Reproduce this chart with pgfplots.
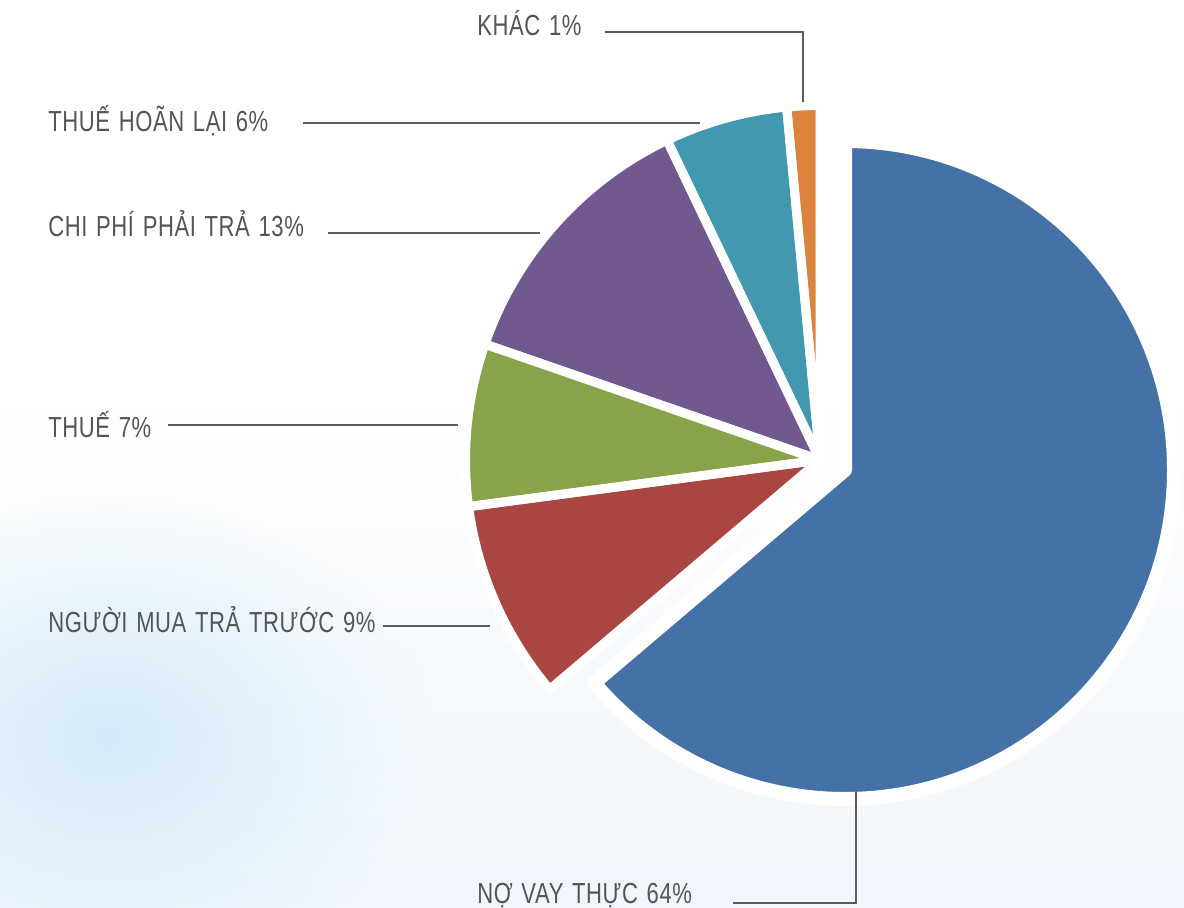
\documentclass[border=0pt]{standalone}
\usepackage{fontspec}
\setmainfont{Liberation Sans}[FakeStretch=0.76, LetterSpace=2.0]
\usepackage{pgfplots}
\usepackage{pgfplotstable}
\pgfplotsset{compat=1.18}
\usetikzlibrary{fadings}
\tikzfading[name=blobfade, inner color=transparent!0, outer color=transparent!100]

\definecolor{cBlue}{HTML}{4572A6}
\definecolor{cRed}{HTML}{AA4642}
\definecolor{cGreen}{HTML}{89A34B}
\definecolor{cPurple}{HTML}{71588F}
\definecolor{cTeal}{HTML}{4298AF}
\definecolor{cOrange}{HTML}{DB843D}
\definecolor{txtC}{HTML}{555555}
\definecolor{lineC}{HTML}{5C5C5C}
\definecolor{bgA}{HTML}{F0F6FC}
\definecolor{bgB}{HTML}{D6EBF8}

% shares (%), clockwise from 12 o'clock
\pgfplotstableread{
share
63.8
9.1
7.4
12.6
5.6
1.5
}\piedata

\newcommand\lbl{\fontsize{14.5pt}{17pt}\selectfont\spaceskip=0.3em\relax}
\newcommand\SA[1]{\csname sa#1\endcsname}
\newcommand\EA[1]{\csname ea#1\endcsname}

\begin{document}
\begin{tikzpicture}
\gdef\cumangle{90}
\pgfplotstableforeachcolumnelement{share}\of\piedata\as\val{%
  \pgfmathsetmacro\endangle{\cumangle-3.6*\val}%
  \expandafter\xdef\csname sa\pgfplotstablerow\endcsname{\cumangle}%
  \expandafter\xdef\csname ea\pgfplotstablerow\endcsname{\endangle}%
  \xdef\cumangle{\endangle}%
}
% background
\fill[white] (0,0) rectangle (592pt,453.5pt);
\shade[top color=white, bottom color=bgA] (0,0) rectangle (592pt,263pt);
\fill[bgB, path fading=blobfade] (55pt,85pt) ellipse [x radius=160pt, y radius=120pt];

\begin{axis}[
  at={(0,0)}, anchor=south west,
  x=0.5pt, y=0.5pt,
  xmin=0, xmax=1184, ymin=0, ymax=907,
  hide axis, clip=false,
]
% slices (fill)
\fill[cBlue]   (axis cs:845,437) -- ++(\SA0:164.5pt) arc[start angle=\SA0, end angle=\EA0, radius=164.5pt] -- cycle;
\fill[cRed]    (axis cs:820,447) -- ++(\SA1:177.25pt) arc[start angle=\SA1, end angle=\EA1, radius=177.25pt] -- cycle;
\fill[cGreen]  (axis cs:820,447) -- ++(\SA2:177.25pt) arc[start angle=\SA2, end angle=\EA2, radius=177.25pt] -- cycle;
\fill[cPurple] (axis cs:820,447) -- ++(\SA3:177.25pt) arc[start angle=\SA3, end angle=\EA3, radius=177.25pt] -- cycle;
\fill[cTeal]   (axis cs:820,447) -- ++(\SA4:177.25pt) arc[start angle=\SA4, end angle=\EA4, radius=177.25pt] -- cycle;
\fill[cOrange] (axis cs:820,447) -- ++(\SA5:177.25pt) arc[start angle=\SA5, end angle=\EA5, radius=177.25pt] -- cycle;
% white separators
\draw[white, line width=7pt, line join=round] (axis cs:845,437) -- ++(\SA0:164.5pt) arc[start angle=\SA0, end angle=\EA0, radius=164.5pt] -- cycle;
\draw[white, line width=4.5pt, line join=round] (axis cs:820,447) -- ++(\SA1:177.25pt) arc[start angle=\SA1, end angle=\EA1, radius=177.25pt] -- cycle;
\draw[white, line width=4.5pt, line join=round] (axis cs:820,447) -- ++(\SA2:177.25pt) arc[start angle=\SA2, end angle=\EA2, radius=177.25pt] -- cycle;
\draw[white, line width=4.5pt, line join=round] (axis cs:820,447) -- ++(\SA3:177.25pt) arc[start angle=\SA3, end angle=\EA3, radius=177.25pt] -- cycle;
\draw[white, line width=4.5pt, line join=round] (axis cs:820,447) -- ++(\SA4:177.25pt) arc[start angle=\SA4, end angle=\EA4, radius=177.25pt] -- cycle;
\draw[white, line width=4.5pt, line join=round] (axis cs:820,447) -- ++(\SA5:177.25pt) arc[start angle=\SA5, end angle=\EA5, radius=177.25pt] -- cycle;

% leader lines
\draw[lineC, line width=1.25pt] (axis cs:605,875) -- (axis cs:803,875) -- (axis cs:803,805);
\draw[lineC, line width=1.25pt] (axis cs:303,784) -- (axis cs:700,784);
\draw[lineC, line width=1.25pt] (axis cs:328,674) -- (axis cs:540,674);
\draw[lineC, line width=1.25pt] (axis cs:168,482) -- (axis cs:458,482);
\draw[lineC, line width=1.25pt] (axis cs:383,281) -- (axis cs:490,281);
\draw[lineC, line width=1.25pt] (axis cs:856,115) -- (axis cs:856,4) -- (axis cs:733,4);

% labels
\node[anchor=base west, inner sep=0pt, text=txtC, font=\lbl] at (axis cs:477,871) {KHÁC 1\%};
\node[anchor=base west, inner sep=0pt, text=txtC, font=\lbl] at (axis cs:48,775) {THUẾ HOÃN LẠI 6\%};
\node[anchor=base west, inner sep=0pt, text=txtC, font=\lbl] at (axis cs:48,670) {CHI PHÍ PHẢI TRẢ 13\%};
\node[anchor=base west, inner sep=0pt, text=txtC, font=\lbl] at (axis cs:48,470) {THUẾ 7\%};
\node[anchor=base west, inner sep=0pt, text=txtC, font=\lbl] at (axis cs:48,275) {NGƯỜI MUA TRẢ TRƯỚC 9\%};
\node[anchor=base west, inner sep=0pt, text=txtC, font=\lbl] at (axis cs:477,4) {NỢ VAY THỰC 64\%};
\end{axis}
\pgfresetboundingbox
\path (0,0) rectangle (592pt,453.5pt);
\end{tikzpicture}
\end{document}
